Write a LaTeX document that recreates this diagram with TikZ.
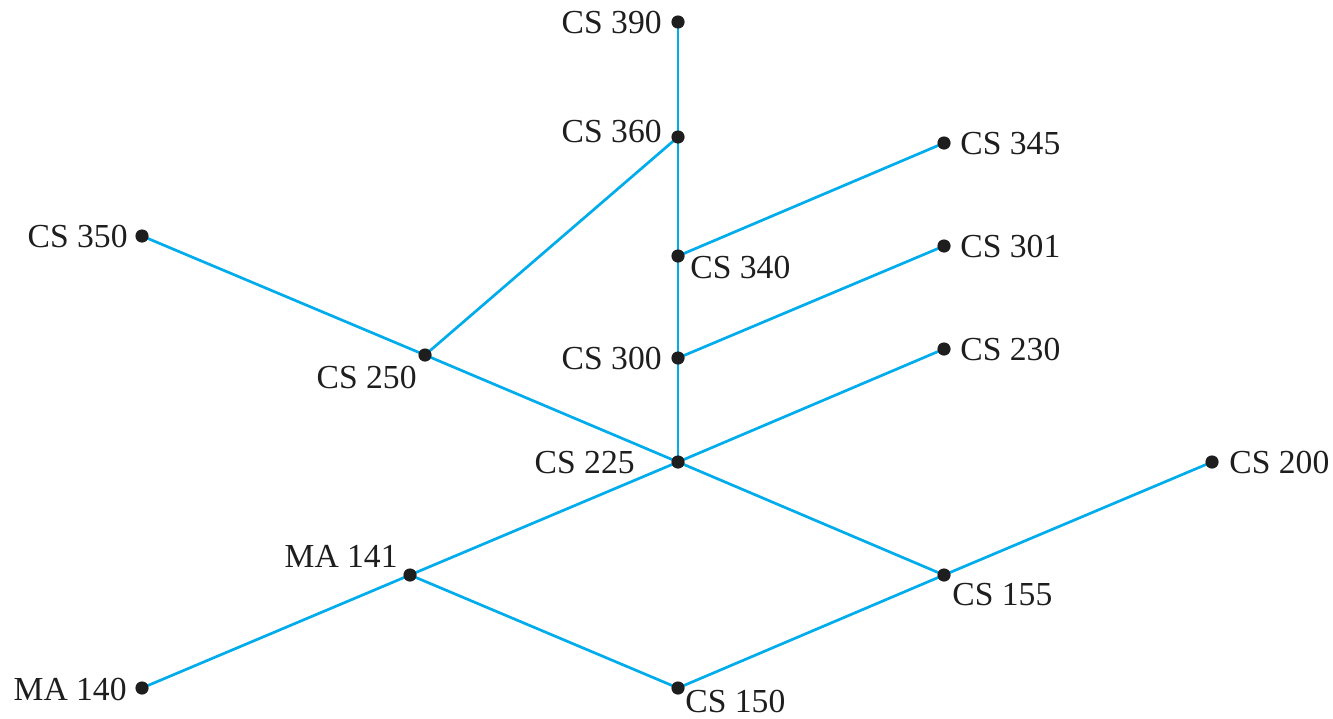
\documentclass[tikz,border=0pt]{standalone}
\usepackage{fontspec}
\setmainfont{Liberation Serif}
\definecolor{edgeblue}{RGB}{0,172,236}
\definecolor{dotblack}{RGB}{30,30,30}
\pgfdeclarelayer{bg}
\pgfsetlayers{bg,main}
\tikzset{
  dot/.style={circle,fill=dotblack,inner sep=0pt,minimum size=6.6pt},
  lab/.style={inner sep=0pt,text height=11pt,text depth=0pt,font=\fontsize{16.8}{20}\selectfont,text=dotblack},
  edge/.style={draw=edgeblue,line width=1.35pt}
}
\begin{document}
\begin{tikzpicture}[x=0.5pt,y=-0.5pt]
\useasboundingbox (0,0) rectangle (1333,718);
% dots
\node[dot] (c390) at (678,22) {};
\node[dot] (c360) at (678,137) {};
\node[dot] (c345) at (944,143) {};
\node[dot] (c350) at (142,236) {};
\node[dot] (c340) at (678,256) {};
\node[dot] (c301) at (944,246) {};
\node[dot] (c300) at (678,358) {};
\node[dot] (c250) at (425,355) {};
\node[dot] (c230) at (944,349) {};
\node[dot] (c225) at (678,462) {};
\node[dot] (c200) at (1212,462) {};
\node[dot] (m141) at (410,575) {};
\node[dot] (c155) at (944,575) {};
\node[dot] (m140) at (142,688) {};
\node[dot] (c150) at (678,688) {};
% labels
\node[lab,anchor=east] (l390) at (662,22) {CS 390};
\node[lab,anchor=east] (l360) at (662,131) {CS 360};
\node[lab,anchor=west] (l345) at (960,143) {CS 345};
\node[lab,anchor=east] (l350) at (128,236) {CS 350};
\node[lab,anchor=west] (l340) at (690,267) {CS 340};
\node[lab,anchor=west] (l301) at (960,246) {CS 301};
\node[lab,anchor=east] (l300) at (662,358) {CS 300};
\node[lab,anchor=east] (l250) at (417,377) {CS 250};
\node[lab,anchor=west] (l230) at (960,349) {CS 230};
\node[lab,anchor=east] (l225) at (635,462) {CS 225};
\node[lab,anchor=west] (l200) at (1229,462) {CS 200};
\node[lab,anchor=east] (l141) at (398,556) {MA 141};
\node[lab,anchor=west] (l155) at (952,594) {CS 155};
\node[lab,anchor=east] (l140) at (127,689) {MA 140};
\node[lab,anchor=west] (l150) at (685,701) {CS 150};
% edges
\begin{pgfonlayer}{bg}
\path[edge] (c390.center) -- (c360.center) -- (c340.center) -- (c300.center) -- (c225.center);
\path[edge] (c360.center) -- (c250.center);
\path[edge] (c340.center) -- (c345.center);
\path[edge] (c300.center) -- (c301.center);
\path[edge] (c225.center) -- (c230.center);
\path[edge] (c350.center) -- (c250.center) -- (c225.center) -- (c155.center);
\path[edge] (m140.center) -- (m141.center) -- (c225.center);
\path[edge] (m141.center) -- (c150.center) -- (c155.center) -- (c200.center);
\end{pgfonlayer}
\end{tikzpicture}
\end{document}
